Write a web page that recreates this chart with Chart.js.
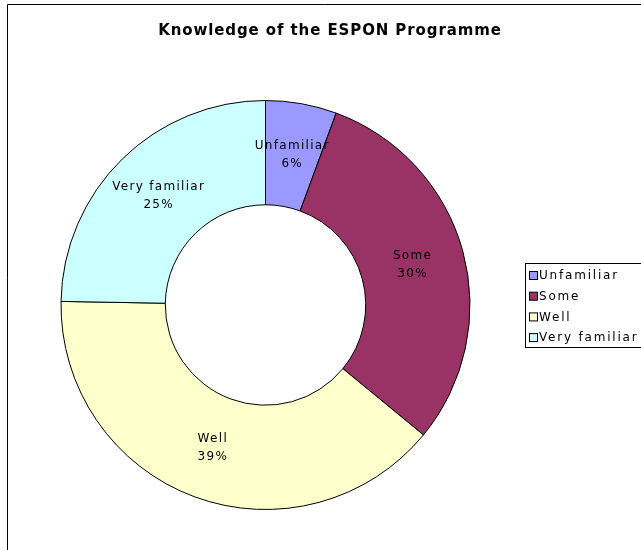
<!DOCTYPE html>
<html>
<head>
<meta charset="utf-8">
<script src="https://cdn.jsdelivr.net/npm/chart.js@4.4.1/dist/chart.umd.min.js"></script>
<style>
    html, body { margin: 0; padding: 0; background: #fff; overflow: hidden; }
    #wrap { position: relative; width: 641px; height: 550px; }
    canvas { display: block; }
</style>
</head>
<body>
<div id="wrap"><canvas id="grafico" width="641" height="550"></canvas></div>
<script>
// datos
const categorias = ['Unfamiliar', 'Some', 'Well', 'Very familiar'];
const respuestas = [5, 27, 35, 22];
const colores = ['#9999FF', '#993366', '#FFFFCC', '#CCFFFF'];
const titulo = 'Knowledge of the ESPON Programme';

const FUENTE = '"DejaVu Sans", Verdana, sans-serif';

// marco, titulo, etiquetas y leyenda al estilo Excel
const decoracion = {
    id: 'decoracion',
    beforeDraw(chart) {
        const ctx = chart.ctx;
        ctx.save();
        ctx.strokeStyle = '#000';
        ctx.lineWidth = 1;
        ctx.beginPath();
        ctx.moveTo(7.5, 560);
        ctx.lineTo(7.5, 4.5);
        ctx.lineTo(660, 4.5);
        ctx.stroke();
        ctx.restore();
    },
    afterDraw(chart) {
        const ctx = chart.ctx;
        const total = respuestas.reduce((s, v) => s + v, 0);
        ctx.save();
        ctx.fillStyle = '#000';
        ctx.textAlign = 'center';
        ctx.textBaseline = 'middle';
        ctx.font = 'bold 15px ' + FUENTE;
        ctx.letterSpacing = '0.9px';
        ctx.fillText(titulo, 330, 31);

        ctx.font = '12px ' + FUENTE;
        ctx.letterSpacing = '1.3px';
        chart.getDatasetMeta(0).data.forEach((arc, i) => {
            const p = arc.getCenterPoint();
            const pct = Math.round(respuestas[i] / total * 100) + '%';
            ctx.fillText(categorias[i], p.x, p.y - 9);
            ctx.fillText(pct, p.x, p.y + 9);
        });

        // leyenda
        ctx.strokeStyle = '#000';
        ctx.lineWidth = 1;
        ctx.strokeRect(525.5, 263.5, 130, 84);
        ctx.textAlign = 'left';
        ctx.letterSpacing = '1.8px';
        categorias.forEach((c, i) => {
            const y = 276 + i * 20.7;
            ctx.fillStyle = colores[i];
            ctx.fillRect(529.5, y - 4.5, 8, 8);
            ctx.strokeRect(529.5, y - 4.5, 8, 8);
            ctx.fillStyle = '#000';
            ctx.fillText(c, 539, y);
        });
        ctx.restore();
    }
};

new Chart(document.getElementById('grafico'), {
    type: 'doughnut',
    data: {
        labels: categorias,
        datasets: [{
            data: respuestas,
            backgroundColor: colores,
            borderColor: '#000',
            borderWidth: 1,
            borderAlign: 'center'
        }]
    },
    options: {
        responsive: false,
        animation: false,
        cutout: '49%',
        layout: {
            padding: { left: 60, right: 170, top: 100, bottom: 40 }
        },
        plugins: {
            legend: { display: false },
            title: { display: false },
            tooltip: { enabled: false }
        }
    },
    plugins: [decoracion]
});
</script>
</body>
</html>
